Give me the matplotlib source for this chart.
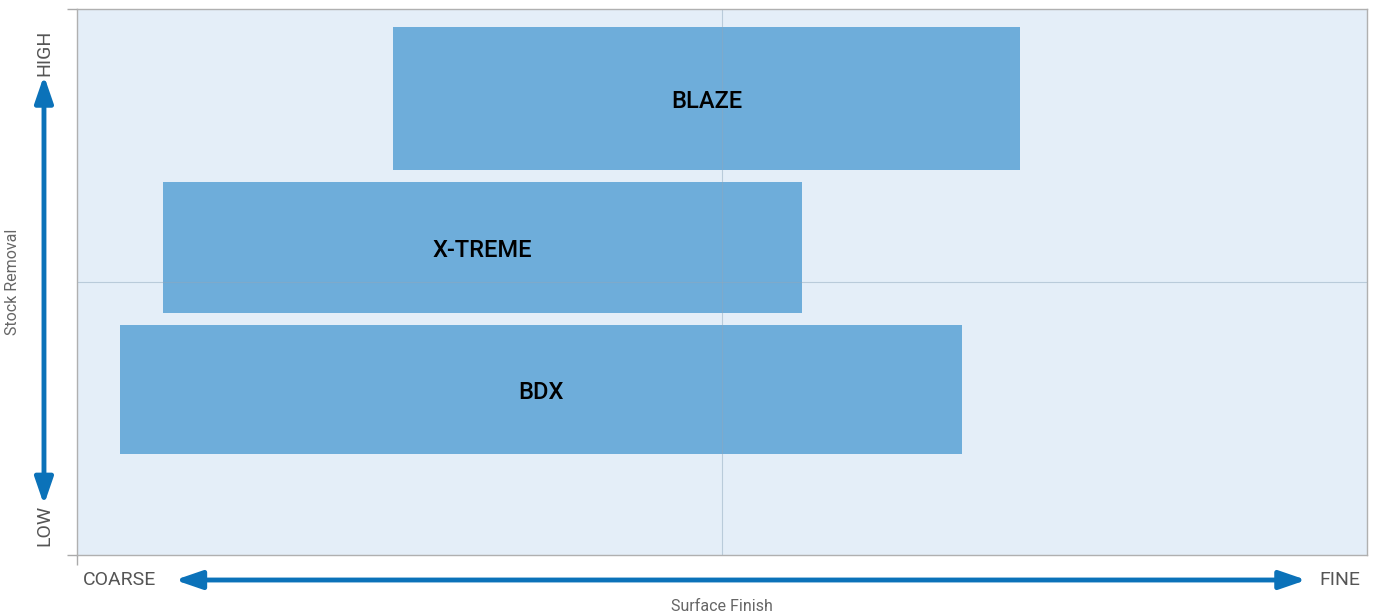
import matplotlib.pyplot as plt

products = ["BLAZE", "X-TREME", "BDX"]
finish_start = [24.5, 6.7, 3.3]
finish_end = [73.1, 56.2, 68.6]
removal_low = [70.5, 44.3, 18.5]
removal_high = [96.7, 68.3, 42.1]

plt.rcParams['font.family'] = ['Roboto', 'DejaVu Sans']

fig = plt.figure(figsize=(13.81, 6.16), dpi=100)
ax = fig.add_axes([77 / 1381, 61 / 616, 1290 / 1381, 546 / 616])
ax.set_facecolor('#e4eef8')

for name, x0, x1, y0, y1 in zip(products, finish_start, finish_end, removal_low, removal_high):
    ax.bar((x0 + x1) / 2, y1 - y0, width=x1 - x0, bottom=y0,
           color='#5aa2d5', alpha=0.85, zorder=1)
    ax.text((x0 + x1) / 2, (y0 + y1) / 2 - 0.6, name, ha='center', va='center',
            fontsize=17, fontweight='medium', color='black', zorder=3)

ax.axvline(50, color='#8fa9bd', lw=0.8, alpha=0.5, zorder=2)
ax.axhline(50, color='#8fa9bd', lw=0.8, alpha=0.5, zorder=2)

ax.set_xlim(0, 100)
ax.set_ylim(0, 100)
ax.set_xticks([0])
ax.set_yticks([0, 100])
ax.set_xticklabels([])
ax.set_yticklabels([])
ax.tick_params(length=7, color='#aaaaaa', width=1)
for s in ax.spines.values():
    s.set_color('#b0b0b0')
    s.set_linewidth(1)

blue = '#0b72b9'
# vertical arrow
ax.annotate('', xy=(-0.0256, 0.878), xytext=(-0.0256, 0.092), xycoords='axes fraction',
            arrowprops=dict(arrowstyle='<|-|>,head_length=1.6,head_width=0.55',
                            color=blue, lw=3.5, shrinkA=0, shrinkB=0))
# horizontal arrow
ax.annotate('', xy=(0.953, -0.0458), xytext=(0.076, -0.0458), xycoords='axes fraction',
            arrowprops=dict(arrowstyle='<|-|>,head_length=1.6,head_width=0.55',
                            color=blue, lw=3.5, shrinkA=0, shrinkB=0))

grey = '#555555'
ax.text(-0.0256, 0.92, 'HIGH', transform=ax.transAxes, rotation=90, ha='center',
        va='center', fontsize=14, color=grey)
ax.text(-0.0256, 0.055, 'LOW', transform=ax.transAxes, rotation=90, ha='center',
        va='center', fontsize=14, color=grey)
ax.text(0.033, -0.0458, 'COARSE', transform=ax.transAxes, ha='center',
        va='center', fontsize=14, color=grey)
ax.text(0.979, -0.0458, 'FINE', transform=ax.transAxes, ha='center',
        va='center', fontsize=14, color=grey)
ax.text(-0.0497, 0.5, 'Stock Removal', transform=ax.transAxes, rotation=90,
        ha='center', va='center', fontsize=11.5, color='#666666')
ax.text(0.5, -0.095, 'Surface Finish', transform=ax.transAxes,
        ha='center', va='center', fontsize=11.5, color='#666666')

fig.savefig('out.png', dpi=100)
